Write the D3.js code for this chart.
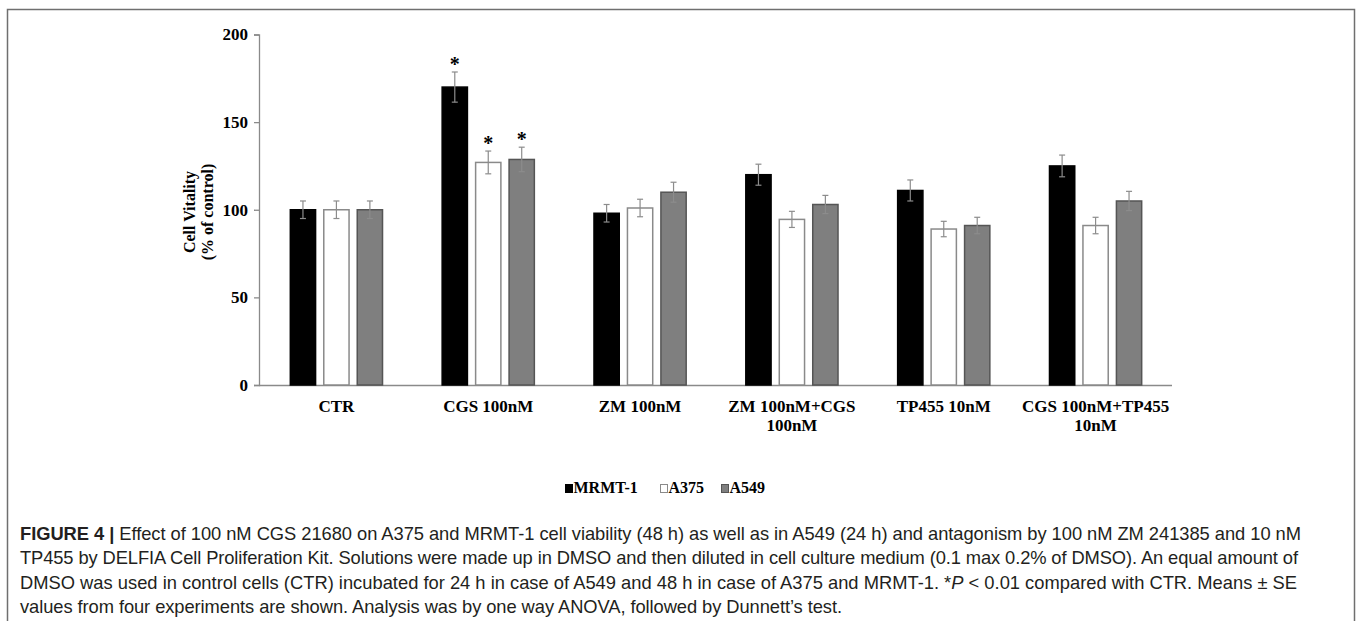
<!DOCTYPE html>
<html>
<head>
<meta charset="utf-8">
<script src="https://cdn.jsdelivr.net/npm/d3@7"></script>
<style>
  html, body { margin: 0; padding: 0; background: #fff; }
  svg { display: block; }
</style>
</head>
<body>
<svg id="chart" width="1356" height="621"></svg>
<script>
// ---- Data ----
const categories = [["CTR"], ["CGS 100nM"], ["ZM 100nM"], ["ZM 100nM+CGS", "100nM"], ["TP455 10nM"], ["CGS 100nM+TP455", "10nM"]];
const seriesNames = ["MRMT-1", "A375", "A549"];
const mrmtValues = [100, 170, 98, 120, 111, 125];
const a375Values = [100, 127, 101, 94.5, 89, 91];
const a549Values = [100, 128.7, 110, 103, 91, 105];
const mrmtErrors = [5, 8.6, 5, 6, 6, 6.2];
const a375Errors = [5, 6.5, 5, 4.6, 4.4, 4.7];
const a549Errors = [5, 7, 5.7, 5.2, 4.7, 5.5];
const significant = [1]; // category indices marked with *
const yTicks = [0, 50, 100, 150, 200];
const captionLines = [
  [["b", "FIGURE 4 | "], ["n", "Effect of 100 nM CGS 21680 on A375 and MRMT-1 cell viability (48 h) as well as in A549 (24 h) and antagonism by 100 nM ZM 241385 and 10 nM"]],
  [["n", "TP455 by DELFIA Cell Proliferation Kit. Solutions were made up in DMSO and then diluted in cell culture medium (0.1 max 0.2% of DMSO). An equal amount of"]],
  [["n", "DMSO was used in control cells (CTR) incubated for 24 h in case of A549 and 48 h in case of A375 and MRMT-1. *"], ["i", "P"], ["n", " < 0.01 compared with CTR. Means \u00B1 SE"]],
  [["n", "values from four experiments are shown. Analysis was by one way ANOVA, followed by Dunnett\u2019s test."]]
];
const captionWidths = [1281, 1278, 1277, 822];

// ---- Styles ----
const seriesFill = ["#000000", "#ffffff", "#7f7f7f"];
const seriesStroke = ["#000000", "#8a8a8a", "#555555"];
const serif = "'Liberation Serif', 'Times New Roman', serif";
const sans = "'Liberation Sans', Arial, sans-serif";

const values = [mrmtValues, a375Values, a549Values];
const errors = [mrmtErrors, a375Errors, a549Errors];

const svg = d3.select("#chart");

// frame
svg.append("path")
  .attr("d", "M7.5,621V9.5H1354.5V621")
  .attr("fill", "none").attr("stroke", "#6f6f6f").attr("stroke-width", 1.5);

const x0 = d3.scaleBand().domain(d3.range(categories.length)).range([260.5, 1171.5]).padding(0);
const x1 = d3.scaleBand().domain(d3.range(seriesNames.length)).range([0, 93.7]).paddingInner(0.2).paddingOuter(0);
const y = d3.scaleLinear().domain([0, 200]).range([385, 34.5]);

// y axis
const yAxis = svg.append("g").attr("transform", "translate(259,0)")
  .call(d3.axisLeft(y).tickValues(yTicks).tickSizeOuter(0).tickSize(5).tickPadding(6));
yAxis.select(".domain").attr("stroke", "#8a8a8a").attr("stroke-width", 1.3);
yAxis.selectAll(".tick line").attr("stroke", "#8a8a8a").attr("stroke-width", 1.3);
yAxis.selectAll(".tick text").attr("font-family", serif).attr("font-weight", "bold")
  .attr("font-size", 17).attr("fill", "#000");

// x axis
const xAxis = svg.append("g").attr("transform", "translate(0,385)")
  .call(d3.axisBottom(x0).tickSize(0).tickFormat(""));
xAxis.select(".domain").attr("stroke", "#8a8a8a").attr("stroke-width", 1.3)
  .attr("d", "M259,0.5H1172");
xAxis.selectAll(".tick").each(function(d) {
  const t = d3.select(this).select("text")
    .attr("font-family", serif).attr("font-weight", "bold").attr("font-size", 17)
    .attr("fill", "#000").attr("y", 0).attr("dy", null).text(null);
  categories[d].forEach((line, i) => {
    t.append("tspan").attr("x", 0).attr("y", 27 + i * 18.5).text(line);
  });
});

// bars
const groups = svg.append("g").selectAll("g").data(categories).join("g")
  .attr("transform", (d, i) => `translate(${x0(i) + x0.bandwidth() / 2 - 46.85},0)`);

groups.each(function(cat, ci) {
  const g = d3.select(this);
  seriesNames.forEach((s, si) => {
    const v = values[si][ci], e = errors[si][ci];
    const bx = x1(si), bw = x1.bandwidth();
    g.append("rect")
      .attr("x", bx + 0.75).attr("y", y(v))
      .attr("width", bw - 1.5).attr("height", y(0) - y(v))
      .attr("fill", seriesFill[si]).attr("stroke", seriesStroke[si]).attr("stroke-width", 1.5);
    const cx = bx + bw / 2;
    const eg = g.append("g").attr("stroke", "#8c8c8c").attr("stroke-width", 1.2);
    eg.append("line").attr("x1", cx).attr("x2", cx).attr("y1", y(v + e)).attr("y2", y(v - e));
    eg.append("line").attr("x1", cx - 3).attr("x2", cx + 3).attr("y1", y(v + e)).attr("y2", y(v + e));
    eg.append("line").attr("x1", cx - 3).attr("x2", cx + 3).attr("y1", y(v - e)).attr("y2", y(v - e));
    if (significant.includes(ci)) {
      g.append("text").attr("x", cx).attr("y", y(v + e) - 1)
        .attr("text-anchor", "middle").attr("font-family", serif).attr("font-weight", "bold")
        .attr("font-size", 20).attr("fill", "#000").text("*");
    }
  });
});

// y label
svg.append("text")
  .attr("transform", "translate(198,212) rotate(-90)")
  .attr("text-anchor", "middle").attr("font-family", serif).attr("font-weight", "bold")
  .attr("font-size", 16).attr("fill", "#000")
  .selectAll("tspan").data(["Cell Vitality", "(% of control)"]).join("tspan")
  .attr("x", 0).attr("y", (d, i) => i * 17.5 - 3).text(d => d);

// legend
const legendX = [565.5, 660.5, 721.5];
const legend = svg.append("g");
seriesNames.forEach((s, i) => {
  legend.append("rect").attr("x", legendX[i]).attr("y", 484.5).attr("width", 7).attr("height", 8)
    .attr("fill", seriesFill[i]).attr("stroke", seriesStroke[i]).attr("stroke-width", 1);
  legend.append("text").attr("x", legendX[i] + 8).attr("y", 493)
    .attr("font-family", serif).attr("font-weight", "bold").attr("font-size", 16)
    .attr("fill", "#000").text(s);
});

// caption: pick a font size whose natural width fits the reference line width
const probe = svg.append("text").attr("font-family", sans).attr("font-size", 16)
  .text(captionLines[2].map(p => p[1]).join(""));
const natural = probe.node().getComputedTextLength();
probe.remove();
const capSize = Math.max(14, Math.min(19, 16 * captionWidths[2] / natural));

captionLines.forEach((parts, li) => {
  const t = svg.append("text").attr("x", 20).attr("y", 540 + li * 24.3)
    .attr("font-family", sans).attr("font-size", capSize).attr("fill", "#231f20")
    .attr("textLength", captionWidths[li]).attr("lengthAdjust", "spacing");
  parts.forEach(([style, str]) => {
    const ts = t.append("tspan").text(str);
    if (style === "b") ts.attr("font-weight", "bold");
    if (style === "i") ts.attr("font-style", "italic");
  });
});
</script>
</body>
</html>
